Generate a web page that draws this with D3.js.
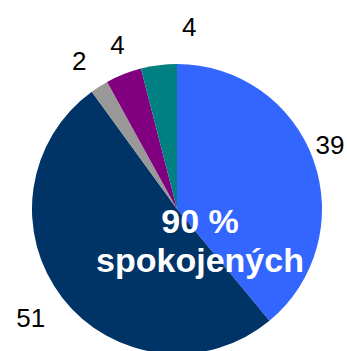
<!DOCTYPE html>
<html>
<head>
<meta charset="utf-8">
<script src="https://cdn.jsdelivr.net/npm/d3@7"></script>
<style>
  html, body { margin: 0; padding: 0; background: #fff; }
  svg { display: block; }
</style>
</head>
<body>
<svg id="chart" width="347" height="351"></svg>
<script>
// Survey answers, clockwise from 12 o'clock
const categories = ["A", "B", "C", "D", "E"];
const values = [39, 51, 2, 4, 4];
const colors = ["#3366FF", "#003366", "#999999", "#800080", "#008080"];
const centerLines = ["90 %", "spokojených"];

// Label placement: radius and angular nudge (degrees) per slice label
const labelRadius = [166, 182, 178, 175, 183];
const labelNudge = [-3, 1.3, -0.9, 1.7, 11];

const width = 347, height = 351;
const cx = 177, cy = 209, r = 145;

const svg = d3.select("#chart");
const g = svg.append("g").attr("transform", `translate(${cx},${cy})`);

const pie = d3.pie().sort(null).value(d => d.value);
const arcs = pie(categories.map((c, i) => ({ cat: c, value: values[i] })));
const arc = d3.arc().innerRadius(0).outerRadius(r);

g.selectAll("path.slice")
  .data(arcs)
  .join("path")
  .attr("class", "slice")
  .attr("d", arc)
  .attr("fill", (d, i) => colors[i]);

// Value labels outside the pie
const fs = 26;
g.selectAll("text.val")
  .data(arcs)
  .join("text")
  .attr("class", "val")
  .attr("text-anchor", "middle")
  .attr("font-family", "'Liberation Sans', Arial, sans-serif")
  .attr("font-size", fs)
  .attr("fill", "#000")
  .attr("x", (d, i) => {
    const a = (d.startAngle + d.endAngle) / 2 + labelNudge[i] * Math.PI / 180;
    return labelRadius[i] * Math.sin(a);
  })
  .attr("y", (d, i) => {
    const a = (d.startAngle + d.endAngle) / 2 + labelNudge[i] * Math.PI / 180;
    return -labelRadius[i] * Math.cos(a) + fs * 0.36;
  })
  .text(d => d.data.value);

// Headline in the middle of the pie
svg.append("text")
  .attr("text-anchor", "middle")
  .attr("font-family", "'Liberation Sans', Arial, sans-serif")
  .attr("font-weight", "bold")
  .attr("font-size", 34)
  .attr("fill", "#fff")
  .selectAll("tspan")
  .data(centerLines)
  .join("tspan")
  .attr("x", 200)
  .attr("y", (d, i) => 233 + i * 39)
  .text(d => d);
</script>
</body>
</html>
